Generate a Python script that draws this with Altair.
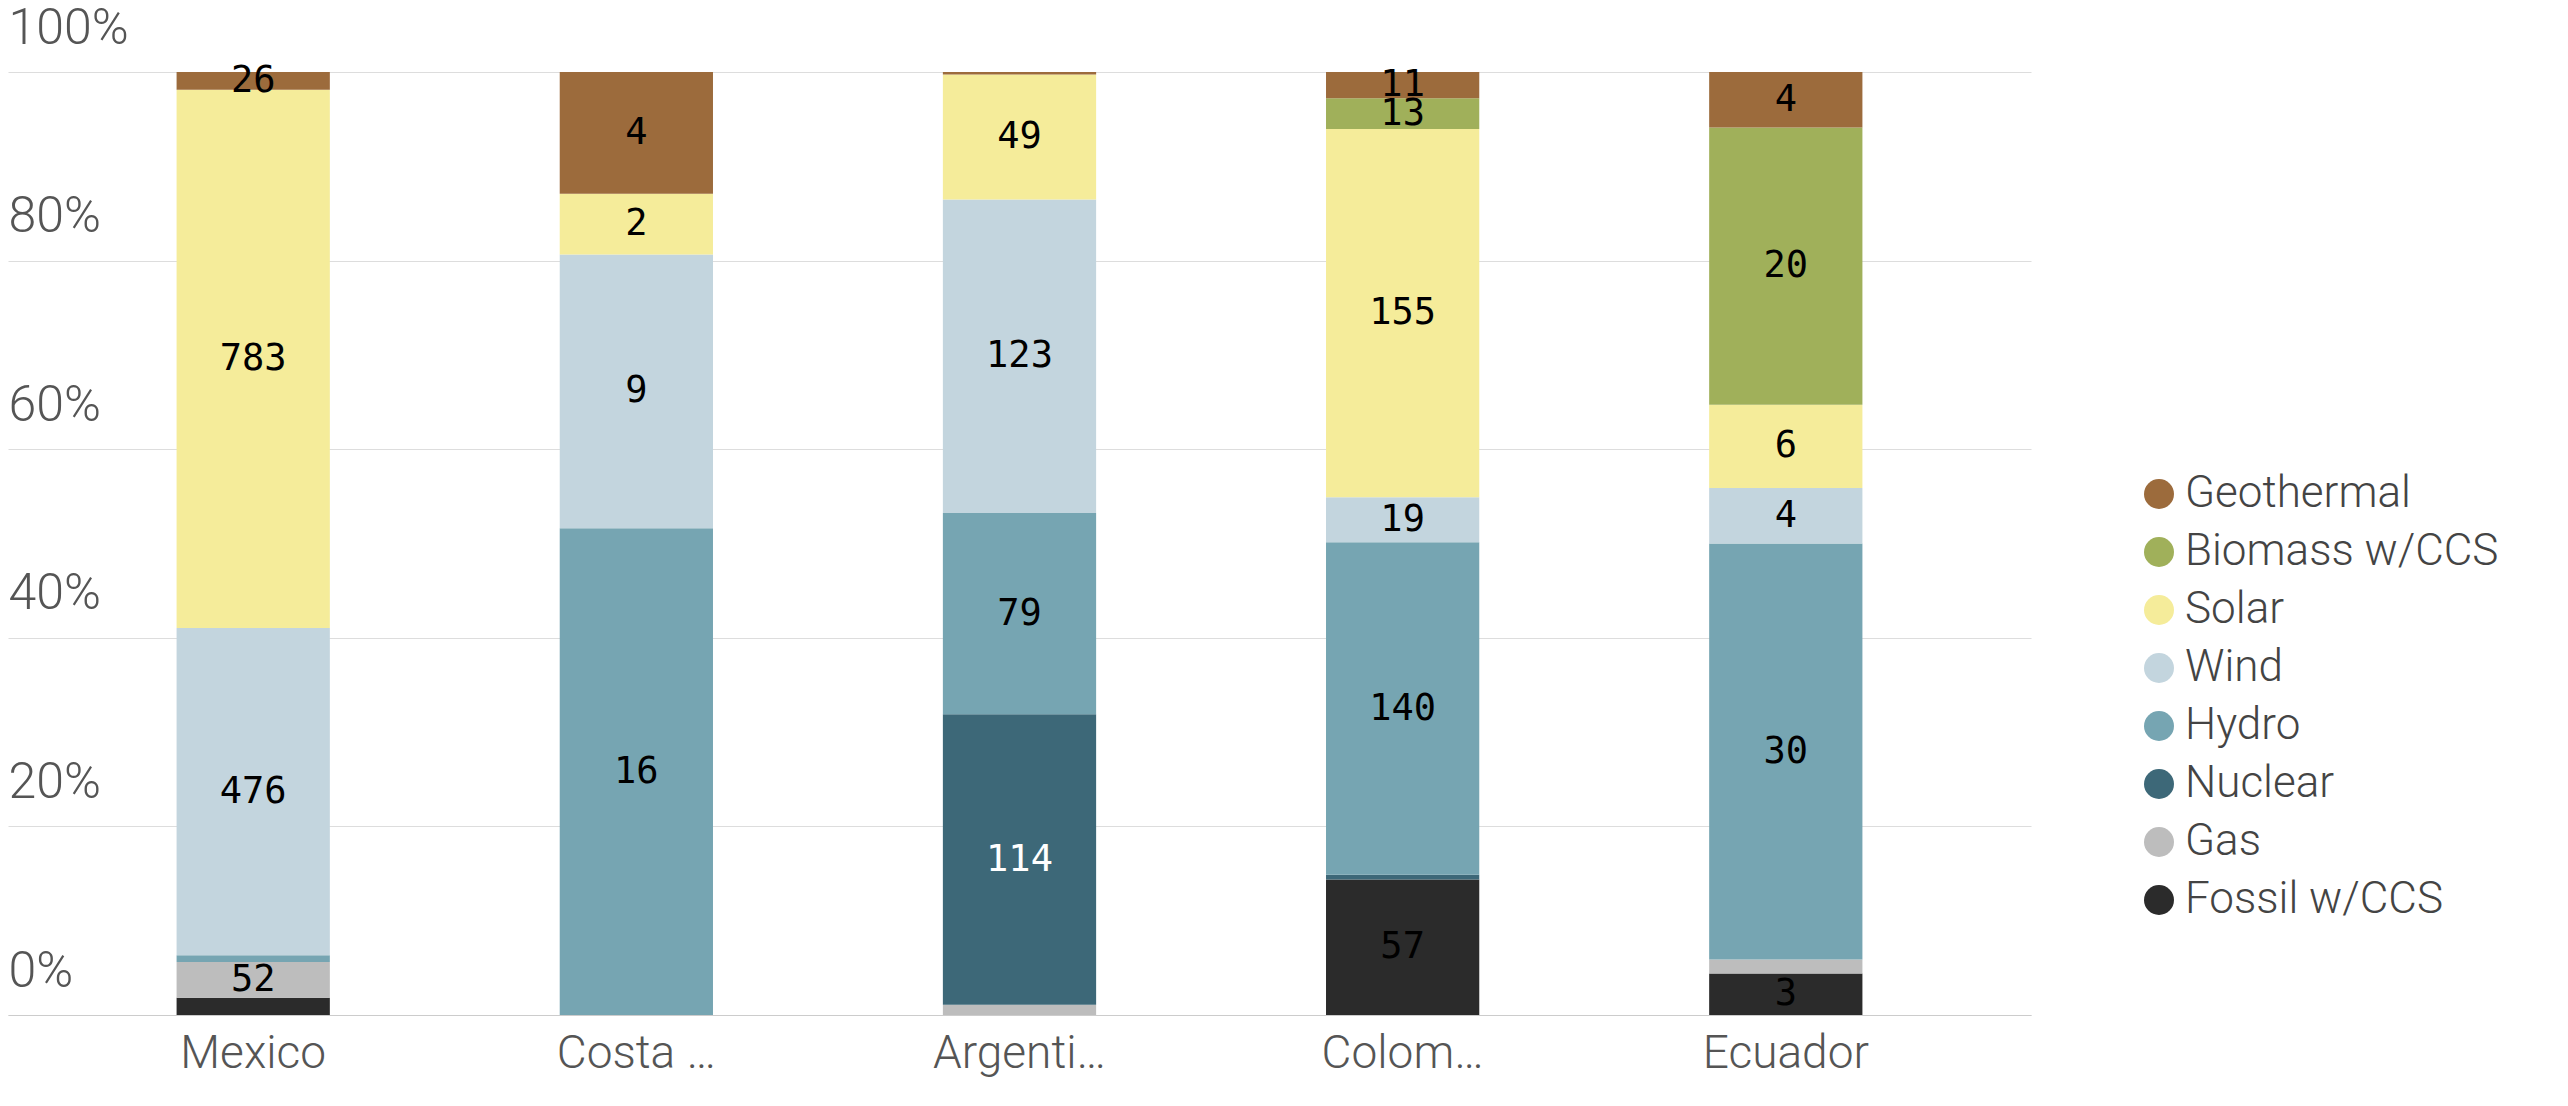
import altair as alt
import pandas as pd

countries = ["Mexico", "Costa Rica", "Argentina", "Colombia", "Ecuador"]
sources = ["Fossil w/CCS", "Gas", "Nuclear", "Hydro", "Wind", "Solar", "Biomass w/CCS", "Geothermal"]
colors = ["#2b2b2b", "#bdbdbd", "#3d6878", "#76a5b2", "#c3d5de", "#f5ec9a", "#a0b05a", "#9c6b3c"]
# values per source, in country order
values = {
    "Fossil w/CCS":  [25, 0, 0, 57, 3],
    "Gas":           [52, 0, 4, 0, 1],
    "Nuclear":       [0, 0, 114, 2, 0],
    "Hydro":         [10, 16, 79, 140, 30],
    "Wind":          [476, 9, 123, 19, 4],
    "Solar":         [783, 2, 49, 155, 6],
    "Biomass w/CCS": [0, 0, 0, 13, 20],
    "Geothermal":    [26, 4, 1, 11, 4],
}
shown = {
    "Fossil w/CCS":  [False, False, False, True, True],
    "Gas":           [True, False, False, False, False],
    "Nuclear":       [False, False, True, False, False],
    "Hydro":         [False, True, True, True, True],
    "Wind":          [True, True, True, True, True],
    "Solar":         [True, True, True, True, True],
    "Biomass w/CCS": [False, False, False, True, True],
    "Geothermal":    [True, True, False, True, True],
}

rows = []
for si, s in enumerate(sources):
    for ci, c in enumerate(countries):
        v = values[s][ci]
        rows.append({"country": c, "source": s, "order": si, "value": v,
                     "label": str(v) if shown[s][ci] else ""})
df = pd.DataFrame(rows)

legend_order = list(reversed(sources))
color_scale = alt.Scale(domain=legend_order, range=list(reversed(colors)))
FONT = "Roboto"

base = alt.Chart(df).transform_stack(
    stack="value", groupby=["country"], sort=[alt.SortField("order", order="ascending")],
    offset="normalize", as_=["y0", "y1"]
).transform_calculate(mid="(datum.y0 + datum.y1) / 2")

xenc = alt.X("country:N", sort=countries, title=None,
             scale=alt.Scale(paddingInner=0.6, paddingOuter=0.44),
             axis=alt.Axis(labelFont=FONT, labelFontWeight=300, labelFontSize=46, labelColor="#555555",
                           labelAngle=0, ticks=False, domainColor="#cccccc", labelPadding=16))

bars = base.mark_bar().encode(
    x=xenc,
    y=alt.Y("y0:Q", title=None, scale=alt.Scale(domain=[0, 1]),
            axis=alt.Axis(format="%", values=[0, 0.2, 0.4, 0.6, 0.8, 1.0], labelAlign="left",
                          labelBaseline="bottom", labelPadding=0, labelOffset=-19,
                          labelFont=FONT, labelFontWeight=300, labelFontSize=50, labelColor="#555555",
                          ticks=False, domain=False, gridColor="#dddddd")),
    y2="y1:Q",
    color=alt.Color("source:N", scale=color_scale, sort=legend_order, title=None,
                    legend=alt.Legend(labelFont=FONT, labelFontWeight=300, labelFontSize=44,
                                      labelColor="#444444", symbolType="circle", symbolSize=900,
                                      rowPadding=14, orient="none", legendX=2129, legendY=400,
                                      labelLimit=500)),
)

texts = base.mark_text(font="DejaVu Sans Mono", fontSize=37).encode(
    x=alt.X("country:N", sort=countries),
    y="mid:Q",
    text="label:N",
    color=alt.condition(alt.datum.source == "Nuclear", alt.value("white"), alt.value("black")),
)

chart = alt.layer(bars, texts).properties(
    width=2023, height=943,
    autosize=alt.AutoSizeParams(type="none"),
    padding={"left": 0, "top": 64, "right": 529, "bottom": 83},
).configure_view(stroke=None)

chart.save("out.html", embed_options={"renderer": "svg", "actions": False})
